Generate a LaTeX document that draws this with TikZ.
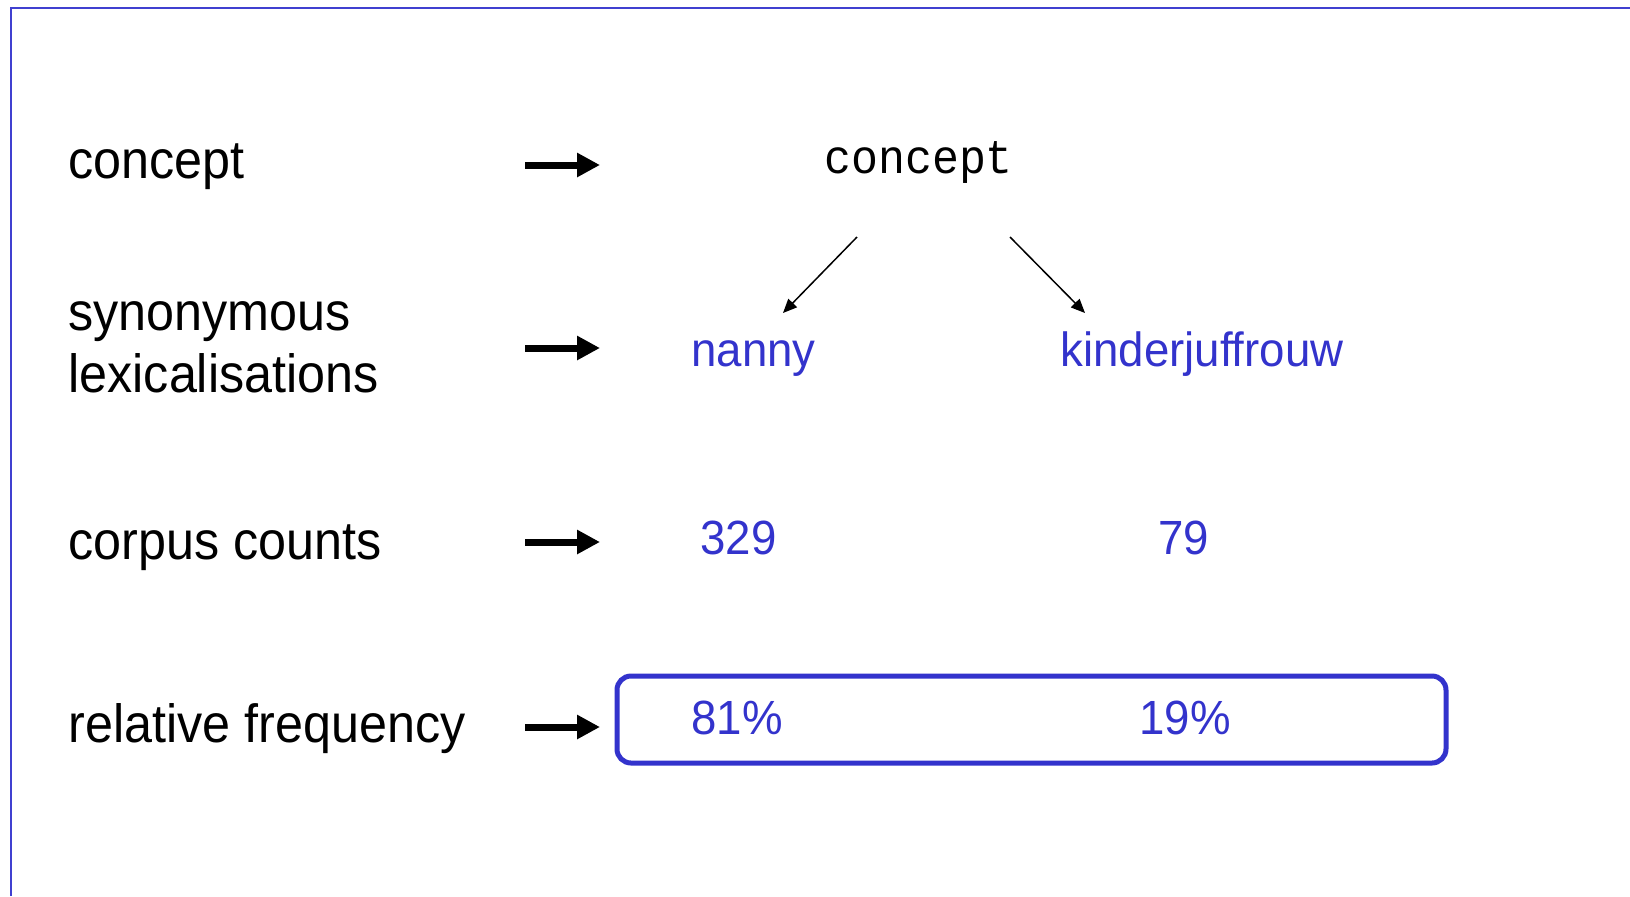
\documentclass[tikz,border=0pt]{standalone}
\usepackage{fontspec}
\setmainfont{Liberation Sans}
\newfontfamily\monofont{Liberation Mono}
\usetikzlibrary{arrows.meta}

\definecolor{ink}{RGB}{51,51,204}
\definecolor{rule}{RGB}{64,64,208}

\tikzset{
  rowlabel/.style={anchor=base west, inner sep=0pt, align=left,
    font=\fontsize{26.9}{30.7}\selectfont},
  word/.style={anchor=base west, inner sep=0pt, text=ink,
    font=\fontsize{24}{28}\selectfont},
  rowarrow/.style={line width=3.5pt, -{Triangle[length=11.5pt,width=11.5pt]}},
  linkarrow/.style={line width=0.75pt, -{Triangle[length=7pt,width=6pt]}},
  freqbox/.style={draw=ink, line width=2.5pt, rounded corners=7pt,
    minimum width=414.5pt, minimum height=43.5pt, inner sep=0pt},
}
\newcommand{\narrow}[1]{\scalebox{0.935}[1]{#1}}
\newcommand{\narrowb}[1]{\scalebox{0.95}[1]{#1}}

\begin{document}
\begin{tikzpicture}[x=0.5pt, y=-0.5pt]
  \useasboundingbox (0,0) rectangle (1630,896);

  % frame along the top and left edges
  \draw[rule, line width=1pt] (11,896) -- (11,8) -- (1630,8);

  % row labels (base anchor of a two-line label sits on its last line)
  \node[rowlabel] (lconcept) at (68,178) {\narrow{concept}};
  \node[rowlabel] (lsyn) at (68,392) {\narrow{synonymous}\\\narrow{lexicalisations}};
  \node[rowlabel] (lcounts) at (68,559) {\narrow{corpus counts}};
  \node[rowlabel] (lfreq) at (68,742) {\narrow{relative frequency}};

  % row arrows
  \foreach \n/\y in {a/165, b/348, c/542, d/727} {
    \coordinate (\n s) at (525,\y);
    \coordinate (\n e) at (600,\y);
    \draw[rowarrow] (\n s) -- (\n e);
  }

  % the concept and its two lexicalisations
  \node[anchor=base west, inner sep=0pt, font=\monofont\fontsize{24}{28}\selectfont]
    (concept) at (824,173) {\narrow{concept}};
  \node[word] (nanny) at (691,366) {\narrowb{nanny}};
  \node[word] (kinder) at (1060,366) {\narrowb{kinderjuffrouw}};

  \coordinate (ls) at (857,237);
  \coordinate (le) at (783,313);
  \coordinate (rs) at (1010,237);
  \coordinate (re) at (1085,313);
  \draw[linkarrow] (ls) -- (le);
  \draw[linkarrow] (rs) -- (re);

  % corpus counts
  \node[word] (cnanny) at (700,554) {\narrowb{329}};
  \node[word] (ckinder) at (1158,554) {\narrowb{79}};

  % relative frequencies
  \node[freqbox] (box) at (1031.5,719.5) {};
  \node[word] (fnanny) at (691,734) {\narrowb{81\%}};
  \node[word] (fkinder) at (1139,734) {\narrowb{19\%}};
\end{tikzpicture}
\end{document}
